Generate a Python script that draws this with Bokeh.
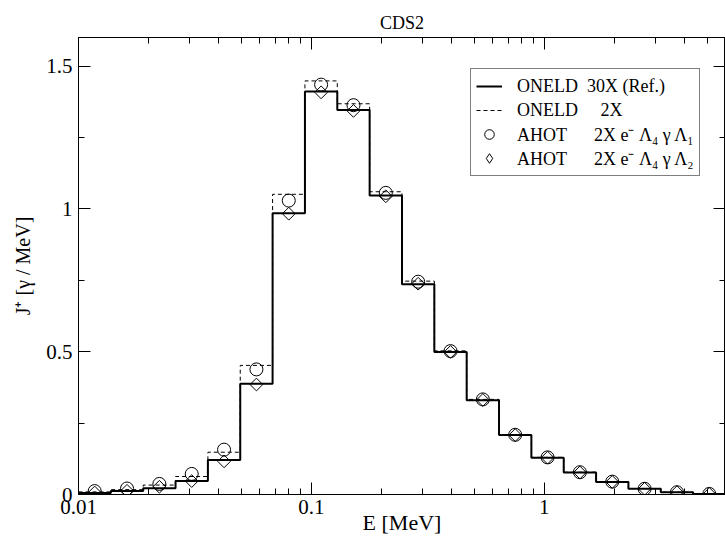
import numpy as np
from bokeh.plotting import figure
from bokeh.models import (Range1d, LogAxis, LinearAxis, FixedTicker,
                          CustomJSTickFormatter, Legend, LegendItem)
from bokeh.embed import file_html
from bokeh.resources import INLINE

# Energy group edges [MeV]
edges = [0.01, 0.013769, 0.018958, 0.026104, 0.035942, 0.049489, 0.068141,
         0.093824, 0.129186, 0.177876, 0.244917, 0.33723, 0.46433, 0.63934,
         0.88031, 1.2121, 1.66894, 2.29797, 3.16407, 4.35662, 6.0]

# J+ per group [gamma / MeV]
oneld_30x = [0.005, 0.012, 0.022, 0.047, 0.121, 0.388, 0.985, 1.411, 1.346,
             1.047, 0.736, 0.499, 0.330, 0.208, 0.129, 0.077, 0.044, 0.020,
             0.008, 0.002]
oneld_2x = [0.009, 0.017, 0.033, 0.063, 0.148, 0.452, 1.051, 1.448, 1.368,
            1.060, 0.747, 0.503, 0.333, 0.210, 0.130, 0.078, 0.045, 0.021,
            0.008, 0.002]
ahot_l1 = [0.012, 0.021, 0.037, 0.072, 0.157, 0.438, 1.029, 1.435, 1.363,
           1.056, 0.745, 0.502, 0.333, 0.209, 0.130, 0.078, 0.045, 0.020,
           0.008, 0.002]
ahot_l2 = [0.007, 0.013, 0.027, 0.047, 0.116, 0.385, 0.983, 1.408, 1.343,
           1.044, 0.738, 0.499, 0.331, 0.208, 0.129, 0.077, 0.044, 0.020,
           0.008, 0.002]

x_major = [0.01, 0.1, 1]
x_minor = [0.02, 0.03, 0.04, 0.05, 0.06, 0.07, 0.08, 0.09,
           0.2, 0.3, 0.4, 0.5, 0.6, 0.7, 0.8, 0.9,
           2, 3, 4, 5, 6]
y_major = [0, 0.5, 1, 1.5]
y_minor = [0.25, 0.75, 1.25]

NB = "\u00a0"
legend_labels = [
    "ONELD" + NB * 2 + "30X (Ref.)",
    "ONELD" + NB * 5 + "2X",
    "AHOT" + NB * 6 + "2X e\u207b \u039b\u2084 \u03b3 \u039b\u2081",
    "AHOT" + NB * 6 + "2X e\u207b \u039b\u2084 \u03b3 \u039b\u2082",
]

FONT = "Liberation Serif"

e = np.array(edges)
centers = np.sqrt(e[:-1] * e[1:])

p = figure(width=725, height=548, x_axis_type="log",
           x_range=Range1d(0.01, 6.0), y_range=Range1d(0, 1.6),
           output_backend="svg", toolbar_location=None,
           min_border_left=78, min_border_right=0,
           min_border_top=37, min_border_bottom=54,
           title="CDS2")
p.grid.visible = False
p.outline_line_color = "black"
p.outline_line_width = 1

p.title.text_font = FONT
p.title.text_font_style = "normal"
p.title.text_font_size = "18px"
p.title.text_color = "black"
p.title.align = "center"

xt = FixedTicker(ticks=x_major, minor_ticks=x_minor)
yt = FixedTicker(ticks=y_major, minor_ticks=y_minor)
fmt = CustomJSTickFormatter(code="return String(tick)")
blank = CustomJSTickFormatter(code="return ''")


def style(ax):
    ax.major_tick_in = 12
    ax.major_tick_out = 0
    ax.minor_tick_in = 6
    ax.minor_tick_out = 0
    ax.axis_line_color = "black"
    ax.major_tick_line_color = "black"
    ax.minor_tick_line_color = "black"
    ax.major_label_text_font = FONT
    ax.major_label_text_font_size = "21px"
    ax.major_label_text_color = "black"
    ax.axis_label_text_font = FONT
    ax.axis_label_text_font_style = "normal"
    ax.axis_label_text_font_size = "22px"
    ax.axis_label_text_color = "black"


xa = p.xaxis[0]
xa.ticker = xt
xa.formatter = fmt
style(xa)
xa.axis_label = "E [MeV]"
xa.major_label_standoff = 5
xa.axis_label_standoff = -7

ya = p.yaxis[0]
ya.ticker = yt
ya.formatter = fmt
style(ya)
ya.axis_label = "J\u207a [\u03b3 / MeV]"
ya.axis_label_text_font_size = "20px"
ya.major_label_standoff = 6
ya.axis_label_standoff = 9

top = LogAxis(ticker=xt, formatter=blank)
style(top)
top.major_label_text_font_size = "0px"
top.major_label_standoff = 0
p.add_layout(top, "above")

right = LinearAxis(ticker=yt, formatter=blank)
style(right)
right.major_label_text_font_size = "0px"
right.major_label_standoff = 0
p.add_layout(right, "right")

r_ref = p.step(x=edges, y=oneld_30x + [oneld_30x[-1]], mode="after",
               line_color="black", line_width=2)
r_2x = p.step(x=edges, y=oneld_2x + [oneld_2x[-1]], mode="after",
              line_color="black", line_width=1, line_dash="4 3")
r_l1 = p.scatter(x=centers, y=ahot_l1, marker="circle", size=13,
                 fill_color=None, line_color="black", line_width=1)
r_l2 = p.scatter(x=centers, y=ahot_l2, marker="square", angle=np.pi / 4,
                 size=9, fill_color=None, line_color="black", line_width=1)
# legend swatch for the diamonds (the legend does not rotate markers);
# a single NaN point so it draws nothing in the plot area
r_l2_key = p.scatter(x=[np.nan], y=[np.nan], marker="diamond", size=12,
                     fill_color=None, line_color="black", line_width=1)

legend = Legend(items=[LegendItem(label=lab, renderers=[r])
                       for lab, r in zip(legend_labels,
                                         [r_ref, r_2x, r_l1, r_l2_key])],
                location=(392, 318))
legend.border_line_color = "black"
legend.border_line_width = 1
legend.background_fill_color = "white"
legend.background_fill_alpha = 1
legend.label_text_font = FONT
legend.label_text_font_size = "18px"
legend.label_text_color = "black"
legend.padding = 5
legend.margin = 0
legend.spacing = 0
legend.label_height = 24
legend.glyph_height = 24
legend.glyph_width = 26
legend.label_standoff = 15
p.add_layout(legend)

open("out.html", "w").write(file_html(p, INLINE))
